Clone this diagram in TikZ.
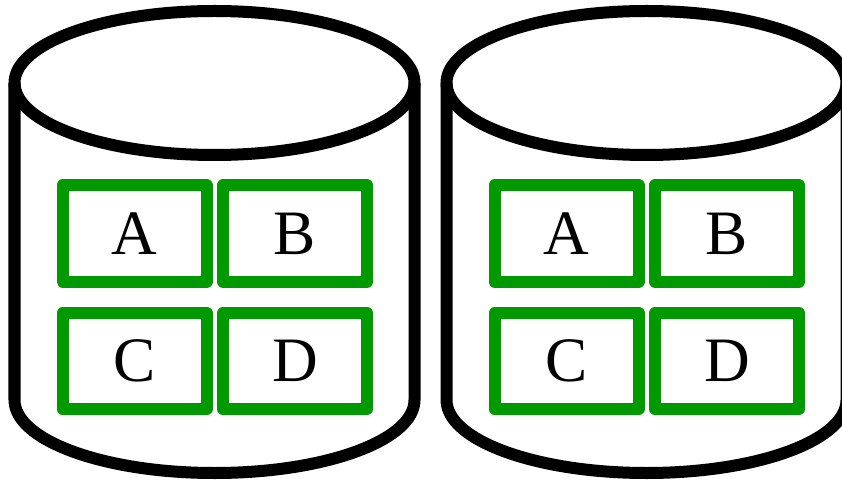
\documentclass[tikz,border=0pt]{standalone}
\usepackage{fontspec}
\setmainfont{Liberation Serif}
\usepackage{xcolor}
\usepackage{tikz}
\usetikzlibrary{positioning}
\definecolor{boxgreen}{RGB}{0,153,0}
\tikzset{main node/.style={rectangle,draw=boxgreen,line width=.24cm,line join=round,outer sep=0pt,minimum width=2.88cm,minimum height=1.92cm,inner sep=0pt,font=\fontsize{36}{36}\selectfont},
drum/.style={draw=black,line width=.24cm,line join=round},}

\begin{document}
\begin{tikzpicture}
	\useasboundingbox (0,0) rectangle (16.84,9.64);
	\begin{scope}[xshift=0cm]
    \path[drum] (.29,7.98) -- (.29,1.64) arc[start angle=180,end angle=360,x radius=4cm,y radius=1.46cm] -- (8.29,7.98);
    \path[drum] (4.29,7.98) ellipse [x radius=4cm,y radius=1.44cm];
    \node[main node] (1) at (2.69,4.97) {A};
    \node[main node] (2) [right = .33cm of 1] {B};
    \node[main node] (3) [below = .63cm of 1] {C};
    \node[main node] (4) [right = .33cm of 3] {D};
    \end{scope}

	\begin{scope}[xshift=8.64cm]
    \path[drum] (.29,7.98) -- (.29,1.64) arc[start angle=180,end angle=360,x radius=4cm,y radius=1.46cm] -- (8.29,7.98);
    \path[drum] (4.29,7.98) ellipse [x radius=4cm,y radius=1.44cm];
    \node[main node] (1) at (2.69,4.97) {A};
    \node[main node] (2) [right = .33cm of 1] {B};
    \node[main node] (3) [below = .63cm of 1] {C};
    \node[main node] (4) [right = .33cm of 3] {D};
    \end{scope}
\end{tikzpicture}
\end{document}
